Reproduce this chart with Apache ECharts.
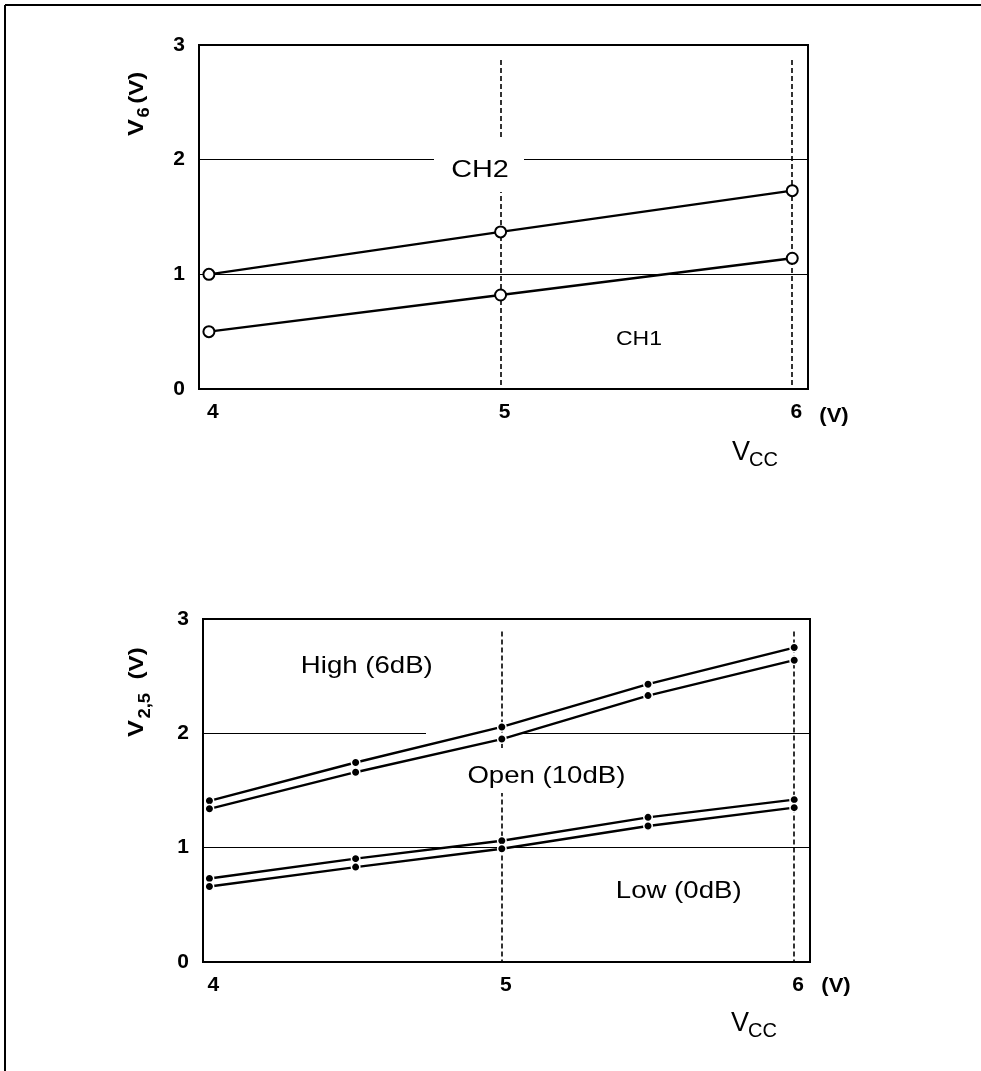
<!DOCTYPE html>
<html>
<head>
<meta charset="utf-8">
<script src="https://cdn.jsdelivr.net/npm/echarts@6/dist/echarts.min.js"></script>
<style>
html,body{margin:0;padding:0;background:#fff;}
#c{width:981px;height:1071px;}
</style>
</head>
<body>
<div id="c"></div>
<script>
// ---- data ----
var topX = [4, 5, 6];
var ch2 = [1.0, 1.37, 1.73];
var ch1 = [0.5, 0.82, 1.14];

var botX = [4, 4.5, 5, 5.5, 6];
var highUpper = [1.41, 1.745, 2.056, 2.43, 2.75];
var highLower = [1.34, 1.66, 1.95, 2.33, 2.64];
var lowUpper = [0.73, 0.904, 1.06, 1.265, 1.42];
var lowLower = [0.66, 0.83, 0.99, 1.19, 1.35];

var xTicks = [4, 5, 6];
var dashedX = [5, 6];
var dashedTopTop = 2.87;
var dashedTopBot = 2.89;

function pairs(xs, ys) { return xs.map(function (x, i) { return [x, ys[i]]; }); }

var FONT = 'Liberation Sans';

var chart = echarts.init(document.getElementById('c'), null, {renderer: 'canvas'});

function xAxisCfg(idx, min, max) {
  return {
    type: 'value', gridIndex: idx, min: min, max: max,
    axisLine: {show: false}, axisTick: {show: false}, splitLine: {show: false},
    axisLabel: {
      customValues: xTicks, margin: 13, padding: [0, 0, 0, 8],
      color: '#000', fontFamily: FONT, fontSize: 21, fontWeight: 'bold'
    }
  };
}
function yAxisCfg(idx) {
  return {
    type: 'value', gridIndex: idx, min: 0, max: 3, interval: 1,
    axisLine: {show: false}, axisTick: {show: false},
    splitLine: {show: true, lineStyle: {color: '#000', width: 1.2}},
    axisLabel: {
      margin: 14, padding: [10, 0, 0, 0],
      color: '#000', fontFamily: FONT, fontSize: 21, fontWeight: 'bold'
    }
  };
}

function dashSeries(xi, yi, topVal) {
  return {
    type: 'line', xAxisIndex: xi, yAxisIndex: yi, data: [], z: 1, silent: true,
    markLine: {
      symbol: 'none', silent: true, animation: false, z: 1,
      label: {show: false},
      lineStyle: {color: '#000', type: [5, 3], width: 1.6},
      data: dashedX.map(function (x) { return [{coord: [x, topVal]}, {coord: [x, 0]}]; })
    }
  };
}

function openSeries(name, xs, ys) {
  return {
    name: name, type: 'line', xAxisIndex: 0, yAxisIndex: 0, z: 3,
    data: pairs(xs, ys),
    lineStyle: {color: '#000', width: 2.4},
    symbol: 'circle', symbolSize: 11,
    itemStyle: {color: '#fff', borderColor: '#000', borderWidth: 2}
  };
}
function dotSeries(name, xs, ys) {
  return {
    name: name, type: 'line', xAxisIndex: 1, yAxisIndex: 1, z: 3,
    data: pairs(xs, ys),
    lineStyle: {color: '#000', width: 2.4},
    symbol: 'circle', symbolSize: 8.5,
    itemStyle: {color: '#000', borderColor: '#fff', borderWidth: 1.5}
  };
}

function txt(x, y, s, size, sx, z, weight) {
  return {
    type: 'text', x: x, y: y, z: z || 5, scaleX: sx || 1,
    style: {text: s, fill: '#000', font: (weight || 'normal') + ' ' + size + 'px "' + FONT + '"',
      textAlign: 'center', textVerticalAlign: 'middle'}
  };
}
function rect(x, y, w, h, z) {
  return {type: 'rect', z: z, shape: {x: x, y: y, width: w, height: h}, style: {fill: '#fff'}, silent: true};
}
function yTitle(ox, oy, sub, subX, subY, restX) {
  return {
    type: 'group', x: ox, y: oy, rotation: Math.PI / 2, scaleX: 1.15, z: 5,
    children: [
      {type: 'text', x: 0, y: 0, z: 5, style: {text: 'V', fill: '#000', font: 'bold 22px "' + FONT + '"', textAlign: 'left', textVerticalAlign: 'middle'}},
      {type: 'text', x: subX, y: subY, z: 5, style: {text: sub, fill: '#000', font: 'bold 16px "' + FONT + '"', textAlign: 'left', textVerticalAlign: 'middle'}},
      {type: 'text', x: restX, y: 0, z: 5, style: {text: '(V)', fill: '#000', font: 'bold 21px "' + FONT + '"', textAlign: 'left', textVerticalAlign: 'middle'}}
    ]
  };
}
function vcc(x, y) {
  return [
    {type: 'text', x: x, y: y, z: 5, style: {text: 'V', fill: '#000', font: '27px "' + FONT + '"', textAlign: 'center', textVerticalAlign: 'middle'}},
    {type: 'text', x: x + 8, y: y + 7, z: 5, style: {text: 'CC', fill: '#000', font: '20px "' + FONT + '"', textAlign: 'left', textVerticalAlign: 'middle'}}
  ];
}

var graphics = [
  // outer frame
  {type: 'line', z: 5, shape: {x1: 5, y1: 5, x2: 981, y2: 5}, style: {stroke: '#000', lineWidth: 2}},
  {type: 'line', z: 5, shape: {x1: 5, y1: 5, x2: 5, y2: 1071}, style: {stroke: '#000', lineWidth: 2}},
  // top chart annotations
  rect(434, 140, 90, 52, 2),
  txt(480, 170.5, 'CH2', 24, 1.2),
  txt(639, 339, 'CH1', 20, 1.15),
  txt(834, 416, '(V)', 21, 1.05, 5, 'bold'),
  yTitle(137, 136, '6', 16, 8, 28),
  // bottom chart annotations
  rect(426, 733, 93, 5, 2),
  rect(460, 748, 172, 45, 2),
  txt(366.8, 666, 'High (6dB)', 24, 1.15),
  txt(546.4, 776, 'Open (10dB)', 24, 1.15),
  txt(678.7, 891, 'Low (0dB)', 24, 1.15),
  txt(836, 986, '(V)', 21, 1.05, 5, 'bold'),
  yTitle(137, 737, '2,5', 16, 9, 50)
].concat(vcc(741, 453)).concat(vcc(740, 1024));

chart.setOption({
  animation: false,
  backgroundColor: '#fff',
  grid: [
    {left: 199, top: 45, width: 609, height: 344, show: true, borderColor: '#000', borderWidth: 2, backgroundColor: 'transparent', z: 4},
    {left: 203, top: 619, width: 607, height: 343, show: true, borderColor: '#000', borderWidth: 2, backgroundColor: 'transparent', z: 4}
  ],
  xAxis: [xAxisCfg(0, 3.966, 6.054), xAxisCfg(1, 3.978, 6.054)],
  yAxis: [yAxisCfg(0), yAxisCfg(1)],
  series: [
    dashSeries(0, 0, dashedTopTop),
    dashSeries(1, 1, dashedTopBot),
    openSeries('CH2', topX, ch2),
    openSeries('CH1', topX, ch1),
    dotSeries('High upper', botX, highUpper),
    dotSeries('High lower', botX, highLower),
    dotSeries('Low upper', botX, lowUpper),
    dotSeries('Low lower', botX, lowLower)
  ],
  graphic: {elements: graphics}
});
</script>
</body>
</html>
